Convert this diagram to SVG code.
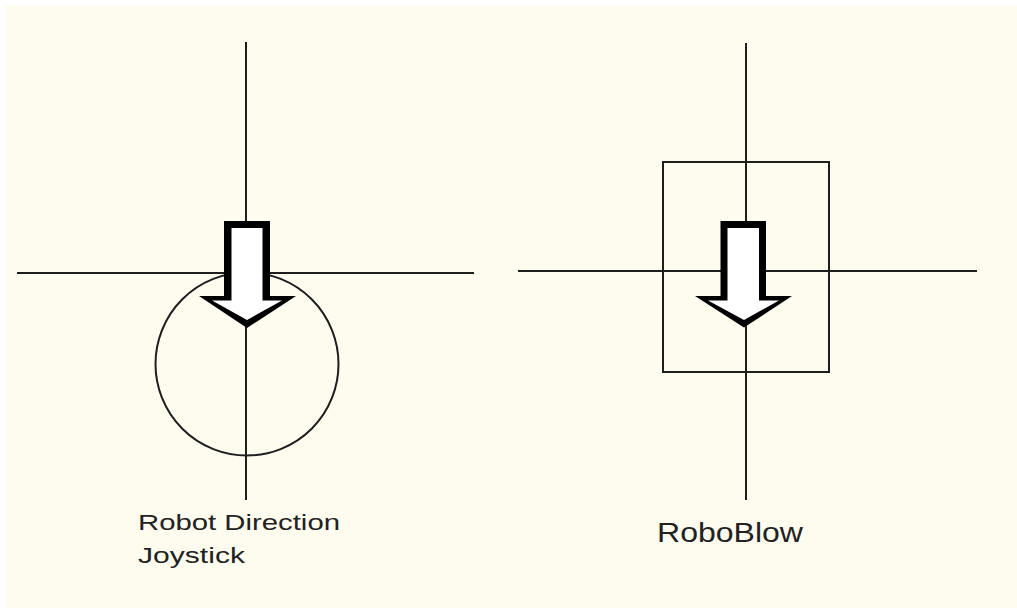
<svg xmlns="http://www.w3.org/2000/svg" width="1017" height="608" viewBox="0 0 1017 608">
<style>
.ln{stroke:#1e1e1e;stroke-width:2;fill:none}
.ao{fill:#000000}
.ai{fill:#ffffff}
.lbl{font-family:"Liberation Sans",Arial,sans-serif;fill:#222222}
</style>
<rect x="0" y="0" width="1017" height="608" fill="#ffffff"/>
<rect x="5" y="5" width="1012" height="603" fill="#fefbef"/>
<g id="joystick">
<line class="ln" x1="246" y1="42" x2="246" y2="500"/>
<line class="ln" x1="17" y1="273" x2="474" y2="273"/>
<circle class="ln" cx="247" cy="364" r="91.5" stroke-width="1.6"/>
<polygon class="ao" points="224,221 270,221 270,296 296,296 247,328 199,296 224,296"/>
<polygon class="ai" points="231.5,228 262.5,228 262.5,300.5 282,300.5 247,320 212,300.5 231.5,300.5"/>
<text class="lbl" x="138" y="530" font-size="22" textLength="202" lengthAdjust="spacingAndGlyphs">Robot Direction</text>
<text class="lbl" x="138" y="563" font-size="22" textLength="107" lengthAdjust="spacingAndGlyphs">Joystick</text>
</g>
<g id="roboblow">
<line class="ln" x1="746" y1="43" x2="746" y2="500"/>
<line class="ln" x1="518" y1="271" x2="977" y2="271"/>
<rect class="ln" x="663" y="162" width="166" height="210" stroke-width="1.6"/>
<polygon class="ao" points="720.5,221 766,221 766,296 792,296 744,327.5 695,296 720.5,296"/>
<polygon class="ai" points="727.5,228 759,228 759,300.5 779,300.5 744,320 708,300.5 727.5,300.5"/>
<text class="lbl" x="657" y="542" font-size="27" textLength="146" lengthAdjust="spacingAndGlyphs">RoboBlow</text>
</g>
<g id="connectors"/>
</svg>
